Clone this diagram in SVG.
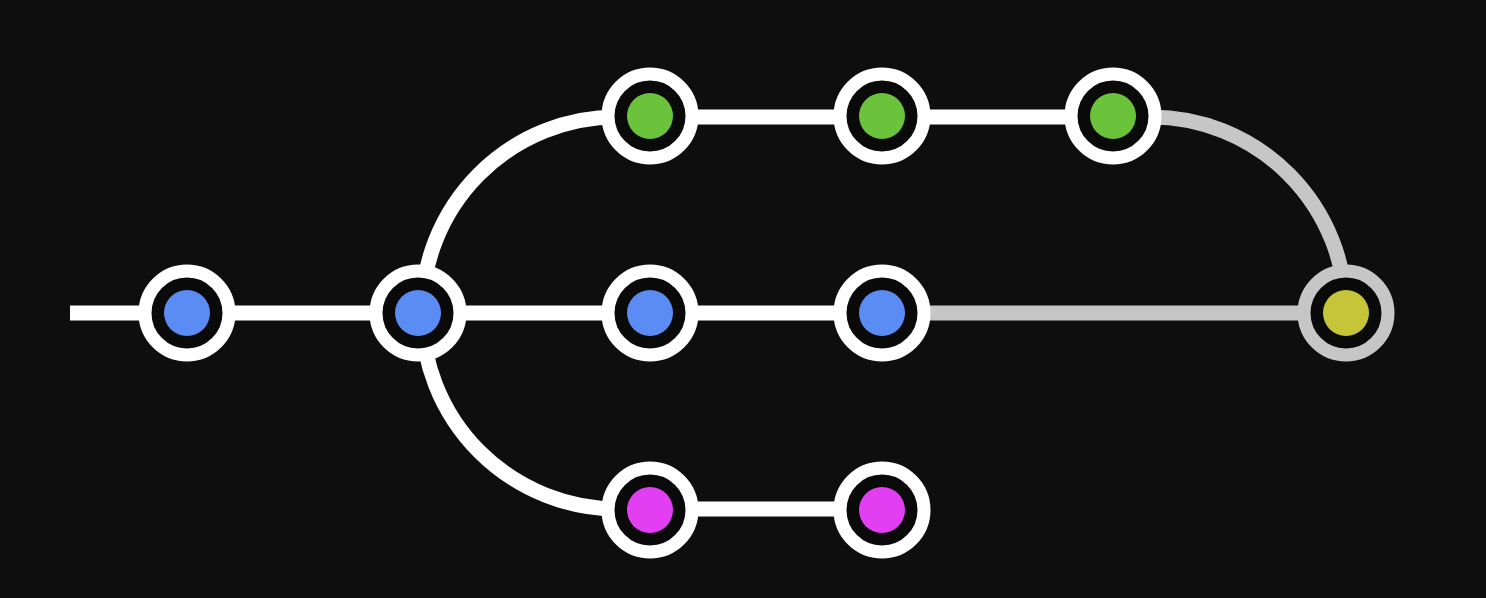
<svg xmlns="http://www.w3.org/2000/svg" width="1486" height="598" viewBox="0 0 1486 598">
<style>
.bg{fill:#0f0e0f}
.ln{fill:none;stroke:#ffffff;stroke-width:15}
.lg{fill:none;stroke:#c6c6c6;stroke-width:15}
.ring{fill:#0b0a0b;stroke:#ffffff;stroke-width:13}
.ringg{fill:#0b0a0b;stroke:#c6c6c6;stroke-width:13}
.blue{fill:#5b8cf4}
.green{fill:#6bc33b}
.mag{fill:#e23ef2}
.yel{fill:#c6c53a}
</style>
<rect class="bg" x="0" y="0" width="1486" height="598"/>
<g id="connectors">
<path class="ln" d="M70 313 L882 313"/>
<path class="ln" d="M422 313 A195 195 0 0 1 617 117 L1113 117"/>
<path class="ln" d="M422 313 A196 196 0 0 0 618 509 L882 509"/>
<path class="lg" d="M882 313 L1346 313"/>
<path class="lg" d="M1113 117 L1151 117 A195 196 0 0 1 1346 313"/>
</g>
<g id="n1"><circle class="ring" cx="187" cy="313" r="42"/><circle class="blue" cx="187" cy="313" r="23"/></g>
<g id="n2"><circle class="ring" cx="418" cy="313" r="42"/><circle class="blue" cx="418" cy="313" r="23"/></g>
<g id="n3"><circle class="ring" cx="650" cy="313" r="42"/><circle class="blue" cx="650" cy="313" r="23"/></g>
<g id="n4"><circle class="ring" cx="882" cy="313" r="42"/><circle class="blue" cx="882" cy="313" r="23"/></g>
<g id="g1"><circle class="ring" cx="650" cy="116" r="42"/><circle class="green" cx="650" cy="116" r="23"/></g>
<g id="g2"><circle class="ring" cx="882" cy="116" r="42"/><circle class="green" cx="882" cy="116" r="23"/></g>
<g id="g3"><circle class="ring" cx="1113" cy="116" r="42"/><circle class="green" cx="1113" cy="116" r="23"/></g>
<g id="m1"><circle class="ring" cx="650" cy="510" r="42"/><circle class="mag" cx="650" cy="510" r="23"/></g>
<g id="m2"><circle class="ring" cx="882" cy="510" r="42"/><circle class="mag" cx="882" cy="510" r="23"/></g>
<g id="merge"><circle class="ringg" cx="1346" cy="313" r="42"/><circle class="yel" cx="1346" cy="313" r="23"/></g>
</svg>
